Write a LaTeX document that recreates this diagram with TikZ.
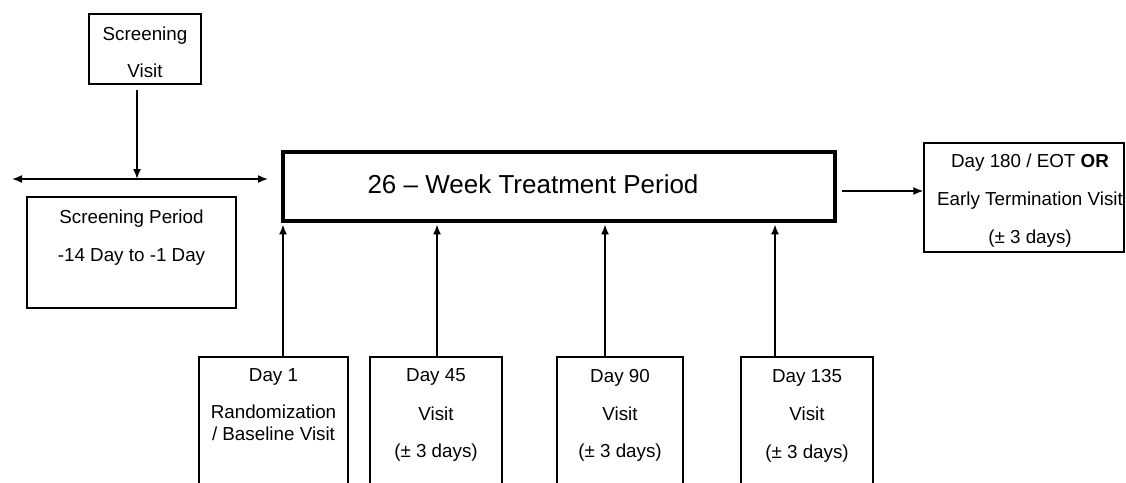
\documentclass[tikz,border=0pt]{standalone}
\usepackage{fontspec}
\setmainfont{Liberation Sans}
\usetikzlibrary{arrows.meta}
\begin{document}
\begin{tikzpicture}[x=1pt,y=-1pt,
  box/.style={draw, line width=1.3pt, inner sep=0pt},
  thickbox/.style={draw, line width=3.4pt, inner sep=0pt},
  txt/.style={font=\fontsize{18.8}{22}\selectfont, inner sep=0pt, anchor=base},
  bigtxt/.style={font=\fontsize{26}{30}\selectfont, inner sep=0pt, anchor=base},
  arr/.style={line width=1.6pt, -{Latex[length=10pt,width=8pt]}},
  darr/.style={line width=1.6pt, {Latex[length=10pt,width=8pt]}-{Latex[length=10pt,width=8pt]}}]
\useasboundingbox (0,0) rectangle (1126,482);

% boxes
\node[box, minimum width=112pt, minimum height=70pt] (sv) at (145,49) {};
\node[box, minimum width=209pt, minimum height=111pt] (sp) at (131.5,252.5) {};
\node[thickbox, minimum width=552pt, minimum height=69pt] (tr) at (559,186.5) {};
\node[box, minimum width=200pt, minimum height=109pt] (eot) at (1024,197.5) {};
\node[box, minimum width=149pt, minimum height=150pt] (d1) at (273.5,432) {};
\node[box, minimum width=132pt, minimum height=150pt] (d45) at (436,432) {};
\node[box, minimum width=126pt, minimum height=150pt] (d90) at (620,432) {};
\node[box, minimum width=132pt, minimum height=150pt] (d135) at (807,432) {};

% texts
\node[txt] (svt1) at (145,40) {Screening};
\node[txt] (svt2) at (145,77) {Visit};
\node[txt] (spt1) at (131.5,223) {Screening Period};
\node[txt] (spt2) at (131.5,261) {-14 Day to -1 Day};
\node[bigtxt] (trt) at (533,193) {26 – Week Treatment Period};
\node[txt] (eot1) at (1030,167) {Day 180 / EOT \textbf{OR}};
\node[txt] (eot2) at (1030,205) {Early Termination Visit};
\node[txt] (eot3) at (1030,243) {(± 3 days)};
\node[txt] (d1a) at (273.5,381) {Day 1};
\node[txt] (d1b) at (273.5,418) {Randomization};
\node[txt] (d1c) at (273.5,440) {/ Baseline Visit};
\node[txt] (d45a) at (436,381) {Day 45};
\node[txt] (d45b) at (436,420) {Visit};
\node[txt] (d45c) at (436,457) {(± 3 days)};
\node[txt] (d90a) at (620,382) {Day 90};
\node[txt] (d90b) at (620,420) {Visit};
\node[txt] (d90c) at (620,457) {(± 3 days)};
\node[txt] (d135a) at (807,382) {Day 135};
\node[txt] (d135b) at (807,420) {Visit};
\node[txt] (d135c) at (807,458) {(± 3 days)};

% connectors
\coordinate (hl) at (12,179);
\coordinate (hr) at (268,179);
\draw[darr] (hl) -- (hr);
\coordinate (sva) at ([xshift=-8pt,yshift=-5pt]sv.south);
\draw[arr] (sva) -- (sva |- hl);
\coordinate (ra) at (842,191);
\draw[arr] (ra) -- (ra -| eot.west);
\draw[arr] ([xshift=9.5pt]d1.north) -- ([xshift=9.5pt,yshift=-1.7pt]d1.north |- tr.south);
\draw[arr] ([xshift=1pt]d45.north) -- ([xshift=1pt,yshift=-1.7pt]d45.north |- tr.south);
\draw[arr] ([xshift=-15pt]d90.north) -- ([xshift=-15pt,yshift=-1.7pt]d90.north |- tr.south);
\draw[arr] ([xshift=-32pt]d135.north) -- ([xshift=-32pt,yshift=-1.7pt]d135.north |- tr.south);
\end{tikzpicture}
\end{document}
